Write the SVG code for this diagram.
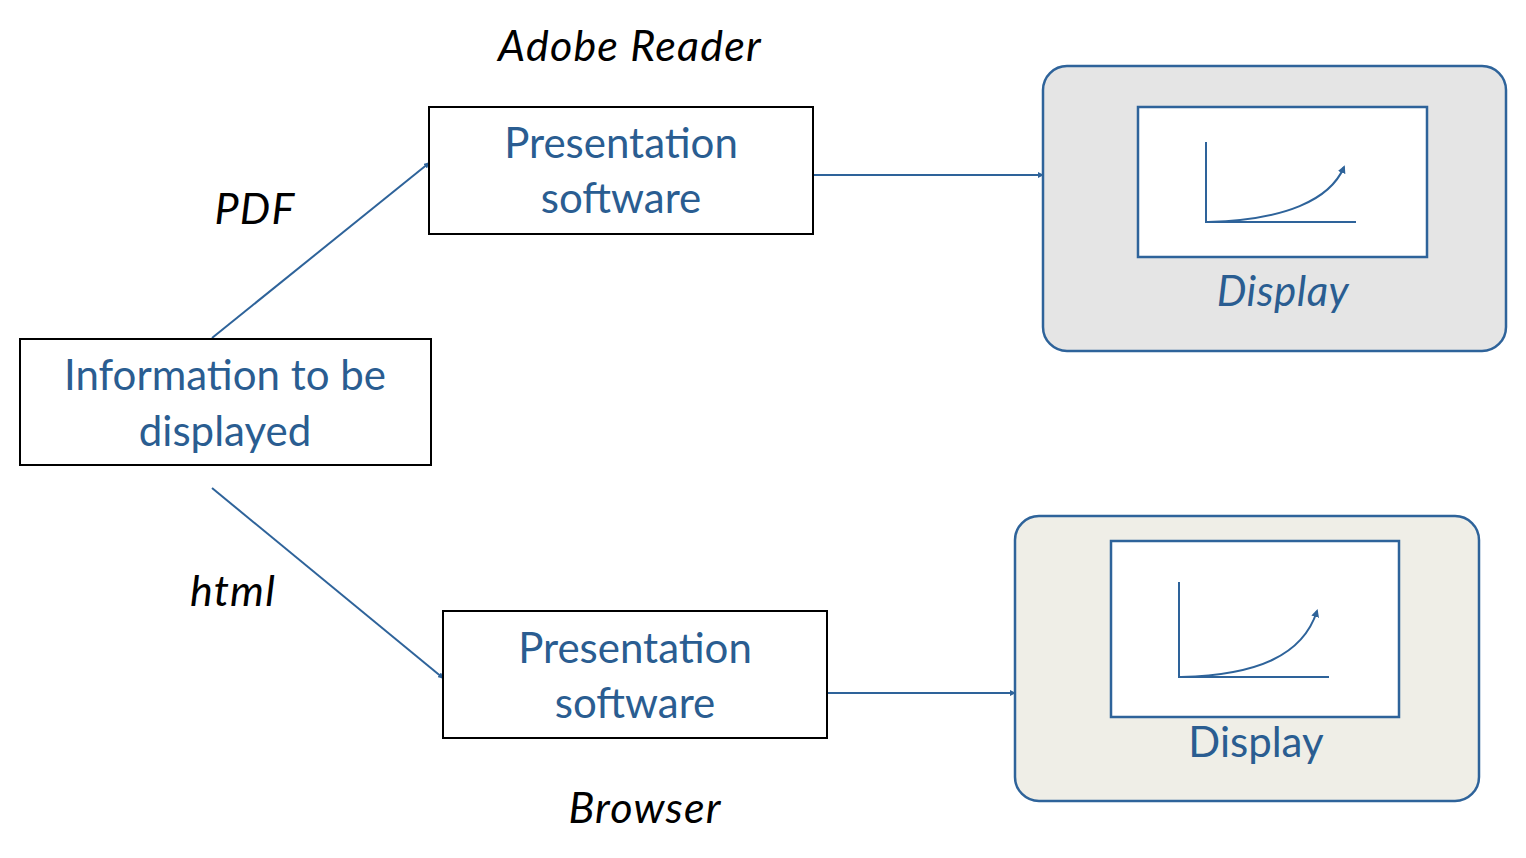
<svg xmlns="http://www.w3.org/2000/svg" width="1526" height="858" viewBox="0 0 1526 858">
<style>
.box{fill:#fff;stroke:#000;stroke-width:2}
.txt{font-family:Lato,"Liberation Sans",sans-serif;font-size:42px;fill:#2a5d91;text-anchor:middle}
.lbl{font-family:Lato,"Liberation Sans",sans-serif;font-size:43px;letter-spacing:1.2px;font-style:italic;fill:#000;text-anchor:middle}
.conn{stroke:#2e639a;stroke-width:2;fill:none;marker-end:url(#ah)}
.outer{stroke:#2e639a;stroke-width:2.5}
.inner{fill:#fff;stroke:#2e639a;stroke-width:2.5}
.ax{stroke:#2e639a;stroke-width:2;fill:none}
.crv{stroke:#2e639a;stroke-width:2;fill:none;marker-end:url(#ah2)}
</style>
<defs>
<marker id="ah" markerWidth="6" markerHeight="6" refX="5" refY="3" orient="auto" markerUnits="userSpaceOnUse"><path d="M0,0 L6,3 L0,6 Z" fill="#2e639a"/></marker>
<marker id="ah2" markerWidth="8" markerHeight="8" refX="6" refY="4" orient="auto" markerUnits="userSpaceOnUse"><path d="M0,0 L8,4 L0,8 Z" fill="#2e639a"/></marker>
</defs>
<rect width="1526" height="858" fill="#fff"/>
<g id="connectors">
<line class="conn" x1="212" y1="338" x2="429" y2="163"/>
<line class="conn" x1="212" y1="488" x2="443" y2="678"/>
<line class="conn" x1="813" y1="175" x2="1043" y2="175"/>
<line class="conn" x1="827" y1="693" x2="1015" y2="693"/>
</g>
<g id="labels">
<text class="lbl" x="630" y="61">Adobe Reader</text>
<text class="lbl" x="255" y="224">PDF</text>
<text class="lbl" x="233" y="606">html</text>
<text class="lbl" x="645" y="823">Browser</text>
</g>
<g id="info">
<rect class="box" x="20" y="339" width="411" height="126"/>
<text class="txt" x="225" y="390">Information to be</text>
<text class="txt" x="225" y="446">displayed</text>
</g>
<g id="pres1">
<rect class="box" x="429" y="107" width="384" height="127"/>
<text class="txt" x="621" y="158">Presentation</text>
<text class="txt" x="621" y="213">software</text>
</g>
<g id="pres2">
<rect class="box" x="443" y="611" width="384" height="127"/>
<text class="txt" x="635" y="663">Presentation</text>
<text class="txt" x="635" y="718">software</text>
</g>
<g id="display1">
<rect class="outer" x="1043" y="66" width="463" height="285" rx="24" fill="#e5e5e5"/>
<rect class="inner" x="1138" y="107" width="289" height="150"/>
<path class="ax" d="M1206,142 V222 H1356"/>
<path class="crv" d="M1208,222 C1285,220 1330,200 1344,167"/>
<text class="txt" x="1283" y="306" font-style="italic" font-size="43" letter-spacing="0.5">Display</text>
</g>
<g id="display2">
<rect class="outer" x="1015" y="516" width="464" height="285" rx="24" fill="#efeee7"/>
<rect class="inner" x="1111" y="541" width="288" height="176"/>
<path class="ax" d="M1179,582 V677 H1329"/>
<path class="crv" d="M1181,677 C1258,675 1303,655 1317,611"/>
<text class="txt" x="1256" y="757" font-size="41">Display</text>
</g>
</svg>
